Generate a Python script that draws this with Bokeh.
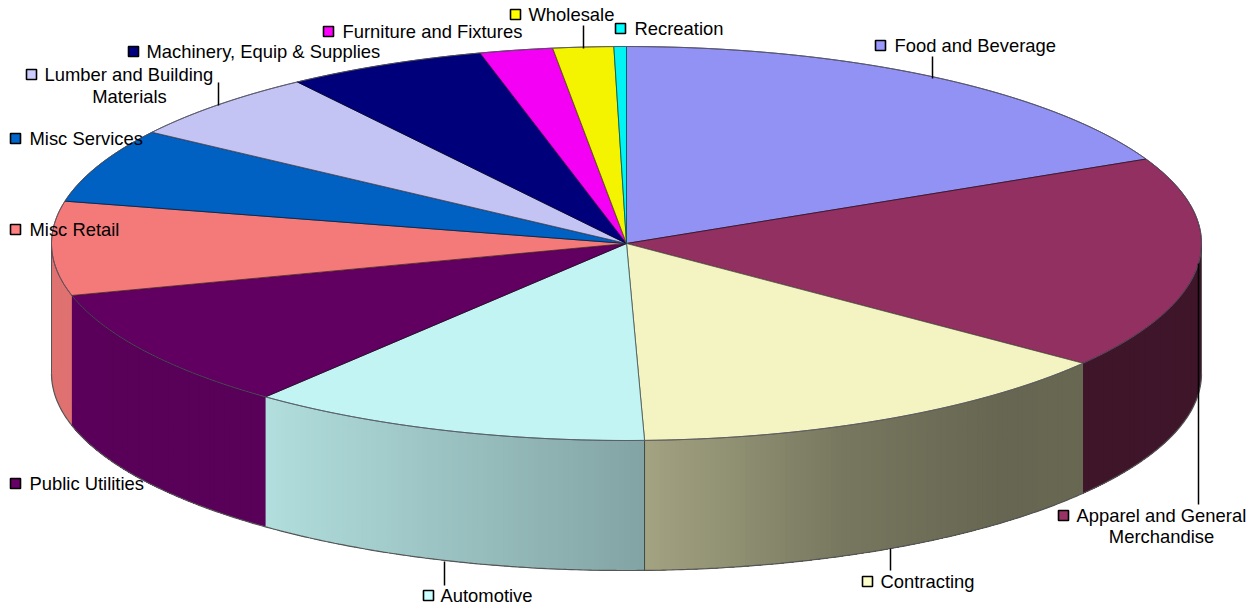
import numpy as np
from bokeh.plotting import figure
from bokeh.embed import file_html
from bokeh.resources import INLINE
from bokeh.core.properties import value

categories = ["Food and Beverage", "Apparel and General Merchandise", "Contracting", "Automotive",
              "Public Utilities", "Misc Retail", "Misc Services", "Lumber and Building Materials",
              "Machinery, Equip & Supplies", "Furniture and Fixtures", "Wholesale", "Recreation"]
shares = [17.95, 17.45, 14.1, 11.3, 9.95, 7.7, 6.1, 5.75, 5.6, 2.05, 1.7, 0.35]
colors = ["#9999FF", "#993366", "#FFFFCC", "#CCFFFF", "#660066", "#FF8080",
          "#0066CC", "#CCCCFF", "#000080", "#FF00FF", "#FFFF00", "#00FFFF"]

label_lines = [
    ("Food and Beverage", 894, 45, "left"),
    ("Apparel and General", 1076, 515, "left"),
    ("Merchandise", 1161, 536, "center"),
    ("Contracting", 880, 581, "left"),
    ("Automotive", 440, 595, "left"),
    ("Public Utilities", 29, 483, "left"),
    ("Misc Retail", 29, 229, "left"),
    ("Misc Services", 29, 138, "left"),
    ("Lumber and Building", 44, 74, "left"),
    ("Materials", 129, 96, "center"),
    ("Machinery, Equip & Supplies", 146, 51, "left"),
    ("Furniture and Fixtures", 342, 31, "left"),
    ("Wholesale", 528, 14, "left"),
    ("Recreation", 634, 28, "left"),
]
key_x = [880, 1063, 867, 428, 15, 15, 15, 31, 133, 328, 515, 620]
key_y = [45, 515, 581, 595, 483, 229, 138, 74, 51, 31, 14, 28]
leaders = [(932, 56, 78), (1198, 263, 504), (890, 548, 570), (444, 561, 585), (218, 82, 105), (583, 25, 48)]

CX, CY, RX, RY, DEPTH = 626.0, 243.0, 575.0, 197.0, 130.0
light_x = [50, 265, 645, 840, 1000, 1201]
light_k = [0.88, 0.87, 0.64, 0.47, 0.40, 0.41]


def ex(t):
    return CX + RX * np.sin(t)


def ey(t):
    return CY - RY * np.cos(t)


def rgb(h):
    return np.array([int(h[i:i + 2], 16) for i in (1, 3, 5)], dtype=float)


def to_hex(c):
    return "#%02x%02x%02x" % tuple(int(round(v)) for v in np.clip(c, 0, 255))


p = figure(width=1254, height=608, x_range=(0, 1254), y_range=(608, 0),
           output_backend="svg", toolbar_location=None, min_border=0)
p.axis.visible = False
p.grid.visible = False
p.outline_line_color = None
p.background_fill_color = "white"

edges = np.radians(np.concatenate([[0], np.cumsum(shares)]) / sum(shares) * 360)

# side wall: painted from the far edge of each slice towards the near edge,
# every strip overlapping the one before it so no seams appear
sx, sy, sc = [], [], []
for i, col in enumerate(colors):
    a = max(edges[i], np.pi / 2)
    b = min(edges[i + 1], 3 * np.pi / 2)
    if b <= a:
        continue
    base = rgb(col)
    n = max(2, int(abs(ex(b) - ex(a)) / 5))
    fine = np.linspace(a, b, 400)
    order = np.linspace(ex(a), ex(b), n + 1)
    ts = np.interp(order, *(zip(*sorted(zip(ex(fine), fine)))))
    for j in range(n):
        seg = np.linspace(ts[j], b, max(3, int((b - ts[j]) / np.radians(1))))
        xm = (order[j] + order[j + 1]) / 2
        sx.append(np.concatenate([ex(seg), ex(seg)[::-1]]))
        sy.append(np.concatenate([ey(seg), (ey(seg) + DEPTH)[::-1]]))
        sc.append(to_hex(base * np.interp(xm, light_x, light_k)))
p.patches(sx, sy, fill_color=sc, line_color=None)

# wall outlines
tb = np.radians(np.linspace(90, 270, 361))
p.line(ex(tb), ey(tb) + DEPTH, line_color="#555555", line_width=1.2)
for x_side in (np.pi / 2, 3 * np.pi / 2):
    p.line([ex(x_side)] * 2, [ey(x_side), ey(x_side) + DEPTH], line_color="#555555", line_width=1)
for e in edges:
    if abs(e - np.pi) < 0.2:
        p.line([ex(e)] * 2, [ey(e), ey(e) + DEPTH], line_color="#3a4a4a", line_width=1)

# top face
tx, ty, tc, tl = [], [], [], []
for i, col in enumerate(colors):
    ts = np.linspace(edges[i], edges[i + 1], max(3, int((edges[i + 1] - edges[i]) / np.radians(1))))
    tx.append(np.concatenate([[CX], ex(ts)]))
    ty.append(np.concatenate([[CY], ey(ts)]))
    c = rgb(col)
    tc.append(to_hex(c * 0.955))
    tl.append(to_hex(c * 0.35))
p.patches(tx, ty, fill_color=tc, line_color=tl, line_width=1, line_alpha=0.85)
tf = np.radians(np.linspace(0, 360, 721))
p.line(ex(tf), ey(tf), line_color="#5a5a6a", line_width=1, line_alpha=0.8)

for lx, y0, y1 in leaders:
    p.line([lx, lx], [y0, y1], line_color="black", line_width=1.5)

p.scatter(key_x, key_y, marker="square", size=10, fill_color=colors, line_color="black", line_width=1.6)

for txt, lx, ly, al in label_lines:
    p.text([lx], [ly], text=[txt], text_font=value("Liberation Sans"), text_font_size="18.4px",
           text_color="black", text_align=al, text_baseline="middle")

open("out.html", "w").write(file_html(p, INLINE))
